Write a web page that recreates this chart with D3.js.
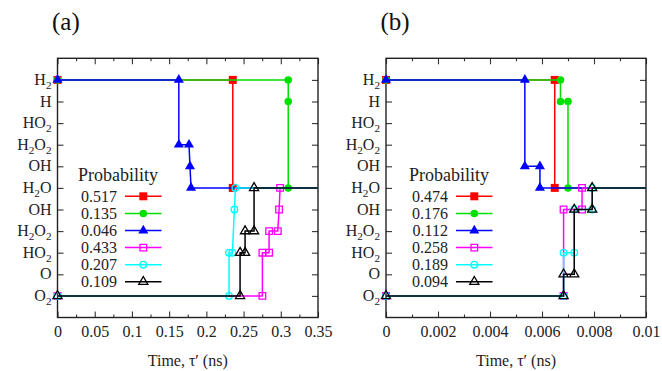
<!DOCTYPE html>
<html>
<head>
<meta charset="utf-8">
<script src="https://cdn.jsdelivr.net/npm/d3@7"></script>
<style>
  body { margin: 0; background: #fff; }
  svg { display: block; }
  svg text { font-family: "Liberation Serif", "Times New Roman", "DejaVu Serif", serif; }
</style>
</head>
<body>
<div id="chart"></div>
<script>
// species on the vertical axis, bottom (0) to top (10)
const levelLabels = ['O2', 'O', 'HO2', 'H2O2', 'OH', 'H2O', 'OH', 'H2O2', 'HO2', 'H', 'H2'];

// panel (a)
const xTicksA = [0, 0.05, 0.1, 0.15, 0.2, 0.25, 0.3, 0.35];
const probA = ['0.517', '0.135', '0.046', '0.433', '0.207', '0.109'];
const timesA = [
  [0, 0.2355, 0.2355],
  [0, 0.310, 0.310, 0.310],
  [0, 0.1630, 0.1630, 0.1767, 0.1780, 0.1794],
  [0, 0.2753, 0.2753, 0.2843, 0.2843, 0.2960, 0.2977, 0.2991],
  [0, 0.2305, 0.2305, 0.2350, 0.2377, 0.2390],
  [0, 0.2453, 0.2453, 0.2520, 0.2520, 0.2641, 0.2641]
];
const levelsA = [
  [10, 10, 5],
  [10, 10, 9, 5],
  [10, 10, 7, 7, 6, 5],
  [0, 0, 2, 2, 3, 3, 4, 5],
  [0, 0, 2, 2, 4, 5],
  [0, 0, 2, 2, 3, 3, 5]
];

// panel (b)
const xTicksB = [0, 0.002, 0.004, 0.006, 0.008, 0.01];
const probB = ['0.474', '0.176', '0.112', '0.258', '0.189', '0.094'];
const timesB = [
  [0, 0.00649, 0.00649],
  [0, 0.00671, 0.00671, 0.00700, 0.00700],
  [0, 0.00534, 0.00534, 0.00592, 0.00592],
  [0, 0.00683, 0.00683, 0.00754, 0.00754],
  [0, 0.00683, 0.00683, 0.00724, 0.00724, 0.00793, 0.00793],
  [0, 0.00683, 0.00683, 0.00724, 0.00724, 0.00793, 0.00793]
];
const levelsB = [
  [10, 10, 5],
  [10, 10, 9, 9, 5],
  [10, 10, 6, 6, 5],
  [0, 0, 4, 4, 5],
  [0, 0, 2, 2, 4, 4, 5],
  [0, 0, 1, 1, 4, 4, 5]
];

const colors = ['#ff0000', '#00e000', '#0000ff', '#ff00ff', '#00ffff', '#000000'];
const shapes = [
  {type: d3.symbolSquare, size: 64, filled: true},
  {type: d3.symbolCircle, size: 44, filled: true},
  {type: d3.symbolTriangle, size: 44, filled: true},
  {type: d3.symbolSquare, size: 44, filled: false},
  {type: d3.symbolCircle, size: 34, filled: false},
  {type: d3.symbolTriangle, size: 36, filled: false}
];

const width = 662, height = 371;
const plotTop = 58.3, plotBottom = 317.5;
const serif = '"Liberation Serif", "Times New Roman", "DejaVu Serif", serif';

const svg = d3.select('#chart').append('svg')
  .attr('width', width)
  .attr('height', height)
  .attr('font-family', serif);

svg.append('rect').attr('width', width).attr('height', height).attr('fill', '#fff');

function chemLabel(sel, label, size) {
  // digits become subscripts
  const parts = label.match(/[A-Za-z]+|\d+/g);
  let sub = false;
  parts.forEach(p => {
    const isNum = /\d/.test(p);
    const t = sel.append('tspan').text(p);
    if (isNum) {
      t.attr('font-size', size * 0.7).attr('dy', sub ? 0 : 4);
      sub = true;
    } else {
      t.attr('font-size', size);
      if (sub) { t.attr('dy', -4); sub = false; }
    }
  });
}

function drawPanel(left, right, xTicks, probs, times, levels, letter, legendX) {
  const x = d3.scaleLinear().domain([0, xTicks[xTicks.length - 1]]).range([left, right]);
  const y = d3.scaleLinear().domain([-1, 11]).range([plotBottom, plotTop]);
  const g = svg.append('g').attr('font-family', serif);

  const step = xTicks[1] - xTicks[0];
  const minor = xTicks.slice(0, -1).map(d => d + step / 2);
  const fmt = d => String(+d.toFixed(4));

  g.append('g').attr('transform', `translate(0,${plotBottom})`)
    .call(d3.axisBottom(x).tickValues(xTicks).tickSize(-6).tickPadding(8).tickFormat(fmt))
    .call(a => a.select('.domain').remove())
    .attr('font-family', serif).attr('font-size', 16)
    .call(a => a.selectAll('text').attr('fill', '#222'));
  g.append('g').attr('transform', `translate(0,${plotBottom})`)
    .call(d3.axisBottom(x).tickValues(minor).tickSize(-3).tickFormat(''))
    .call(a => a.select('.domain').remove());
  g.append('g').attr('transform', `translate(0,${plotTop})`)
    .call(d3.axisTop(x).tickValues(xTicks).tickSize(-6).tickFormat(''))
    .call(a => a.select('.domain').remove());
  g.append('g').attr('transform', `translate(0,${plotTop})`)
    .call(d3.axisTop(x).tickValues(minor).tickSize(-3).tickFormat(''))
    .call(a => a.select('.domain').remove());

  const lv = d3.range(levelLabels.length);
  g.append('g').attr('transform', `translate(${left},0)`)
    .call(d3.axisLeft(y).tickValues(lv).tickSize(-6).tickFormat(''))
    .call(a => a.select('.domain').remove());
  g.append('g').attr('transform', `translate(${right},0)`)
    .call(d3.axisRight(y).tickValues(lv).tickSize(-6).tickFormat(''))
    .call(a => a.select('.domain').remove());
  g.selectAll('.tick line').attr('stroke', '#333').attr('stroke-width', 1.1);

  lv.forEach(i => {
    const t = g.append('text')
      .attr('x', left - 6)
      .attr('y', y(i) + 5)
      .attr('text-anchor', 'end')
      .attr('fill', '#222');
    chemLabel(t, levelLabels[i], 16);
  });

  g.append('rect')
    .attr('x', left).attr('y', plotTop)
    .attr('width', right - left).attr('height', plotBottom - plotTop)
    .attr('fill', 'none').attr('stroke', '#222').attr('stroke-width', 1.4);

  const line = d3.line().x(d => x(d[0])).y(d => y(d[1]));
  const xMax = x.domain()[1];

  times.forEach((ts, k) => {
    const pts = ts.map((t, i) => [t, levels[k][i]]);
    const path = pts.concat([[xMax, pts[pts.length - 1][1]]]);
    g.append('path')
      .attr('d', line(path))
      .attr('fill', 'none')
      .attr('stroke', colors[k])
      .attr('stroke-width', 1.5);
    const s = shapes[k];
    g.selectAll(null).data(pts).enter().append('path')
      .attr('transform', d => `translate(${x(d[0])},${y(d[1])})`)
      .attr('d', d3.symbol().type(s.type).size(s.size))
      .attr('fill', s.filled ? colors[k] : 'none')
      .attr('stroke', colors[k])
      .attr('stroke-width', s.filled ? 0 : 1.3);
  });

  // legend
  g.append('text')
    .attr('x', legendX - 39).attr('y', 181)
    .attr('font-size', 18).attr('fill', '#222')
    .text('Probability');
  probs.forEach((p, k) => {
    const ly = 196.3 + k * 17.1;
    g.append('text')
      .attr('x', legendX).attr('y', ly + 5.5)
      .attr('text-anchor', 'end')
      .attr('font-size', 16).attr('fill', '#222')
      .text(p);
    g.append('line')
      .attr('x1', legendX + 8).attr('x2', legendX + 44.5)
      .attr('y1', ly).attr('y2', ly)
      .attr('stroke', colors[k]).attr('stroke-width', 1.5);
    const s = shapes[k];
    g.append('path')
      .attr('transform', `translate(${legendX + 26.3},${ly})`)
      .attr('d', d3.symbol().type(s.type).size(s.size))
      .attr('fill', s.filled ? colors[k] : 'none')
      .attr('stroke', colors[k])
      .attr('stroke-width', s.filled ? 0 : 1.3);
  });

  // panel letter and x title
  g.append('text')
    .attr('x', left - 5.5).attr('y', 30)
    .attr('font-size', 25).attr('fill', '#111')
    .text(letter);
  g.append('text')
    .attr('x', (left + right) / 2).attr('y', 366)
    .attr('text-anchor', 'middle')
    .attr('font-size', 16).attr('fill', '#222')
    .text('Time, \u03c4\u2032 (ns)');
}

drawPanel(57.5, 318, xTicksA, probA, timesA, levelsA, '(a)', 117);
drawPanel(386, 646, xTicksB, probB, timesB, levelsB, '(b)', 448);
</script>
</body>
</html>
